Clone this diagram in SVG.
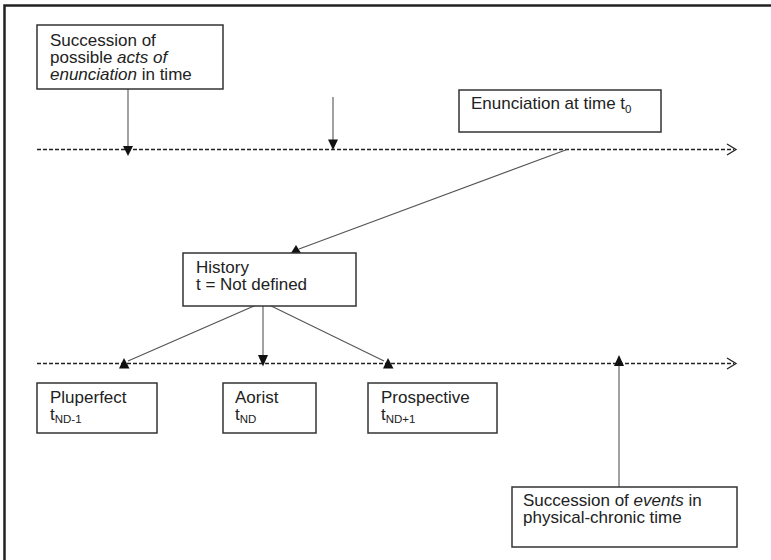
<svg xmlns="http://www.w3.org/2000/svg" width="771" height="560" viewBox="0 0 771 560">
  <style>
    .frame { fill: none; stroke: #222; stroke-width: 2.5; }
    .box { fill: #fff; stroke: #333; stroke-width: 1.5; }
    .lbl { font-family: "Liberation Sans", Arial, sans-serif; font-size: 17px; fill: #222; }
    .sub { font-size: 11.5px; }
    .axis { fill: none; stroke: #222; stroke-width: 1.5; stroke-dasharray: 4 2; }
    .axisend { fill: none; stroke: #222; stroke-width: 1.3; }
    .link { fill: none; stroke: #555; stroke-width: 1.1; }
    .head { fill: #111; }
  </style>
  <rect width="771" height="560" fill="#fff"/>
  <!-- outer frame (top and left edges) -->
  <path class="frame" d="M4.5 560 V5.5 H771"/>

  <!-- time axes -->
  <g id="axes">
    <line class="axis" x1="37" y1="149.5" x2="734" y2="149.5"/>
    <path class="axisend" d="M727 144 L736 149.5 L727 155"/>
    <line class="axis" x1="37" y1="363.5" x2="734" y2="363.5"/>
    <path class="axisend" d="M727 358 L736 363.5 L727 369"/>
  </g>

  <!-- connectors -->
  <g id="connectors">
    <line class="link" x1="128" y1="89" x2="128" y2="148"/>
    <polygon class="head" points="123,146 133,146 128,156"/>
    <line class="link" x1="333" y1="97" x2="333" y2="141"/>
    <polygon class="head" points="328,139.5 338,139.5 333,150"/>
    <line class="link" x1="567" y1="149.5" x2="299" y2="249"/>
    <polygon class="head" points="291,253 301,253 296,245"/>
    <line class="link" x1="263" y1="302" x2="128" y2="361"/>
    <polygon class="head" points="119,368.5 129.5,368.5 124,358"/>
    <line class="link" x1="263" y1="302" x2="263" y2="357"/>
    <polygon class="head" points="258,355 268,355 263,366.5"/>
    <line class="link" x1="263" y1="302" x2="384" y2="361"/>
    <polygon class="head" points="383,368.5 393.5,368.5 388,358"/>
    <line class="link" x1="619" y1="487" x2="619" y2="362"/>
    <polygon class="head" points="614,366 624,366 619,355"/>
  </g>

  <g id="acts">
    <rect class="box" x="37" y="25" width="186" height="64"/>
    <text class="lbl" x="50" y="46">Succession of<tspan x="50" dy="17">possible <tspan font-style="italic">acts of</tspan></tspan><tspan x="50" dy="17"><tspan font-style="italic">enunciation</tspan> in time</tspan></text>
  </g>

  <g id="enunciation">
    <rect class="box" x="459" y="90" width="202" height="42"/>
    <text class="lbl" x="471" y="109">Enunciation at time t<tspan class="sub" dy="4">0</tspan></text>
  </g>

  <g id="history">
    <rect class="box" x="183" y="253" width="173" height="53"/>
    <text class="lbl" x="196" y="273">History<tspan x="196" dy="17">t = Not defined</tspan></text>
  </g>

  <g id="pluperfect">
    <rect class="box" x="37" y="383" width="120" height="50"/>
    <text class="lbl" x="50" y="403">Pluperfect<tspan x="50" dy="17">t</tspan><tspan class="sub" dy="3">ND-1</tspan></text>
  </g>

  <g id="aorist">
    <rect class="box" x="223" y="383" width="93" height="50"/>
    <text class="lbl" x="235" y="403">Aorist<tspan x="235" dy="17">t</tspan><tspan class="sub" dy="3">ND</tspan></text>
  </g>

  <g id="prospective">
    <rect class="box" x="368" y="383" width="129" height="50"/>
    <text class="lbl" x="381" y="403">Prospective<tspan x="381" dy="17">t</tspan><tspan class="sub" dy="3">ND+1</tspan></text>
  </g>

  <g id="events">
    <rect class="box" x="512" y="487" width="225" height="60"/>
    <text class="lbl" x="523" y="506">Succession of <tspan font-style="italic">events</tspan> in<tspan x="523" dy="17">physical-chronic time</tspan></text>
  </g>
</svg>
